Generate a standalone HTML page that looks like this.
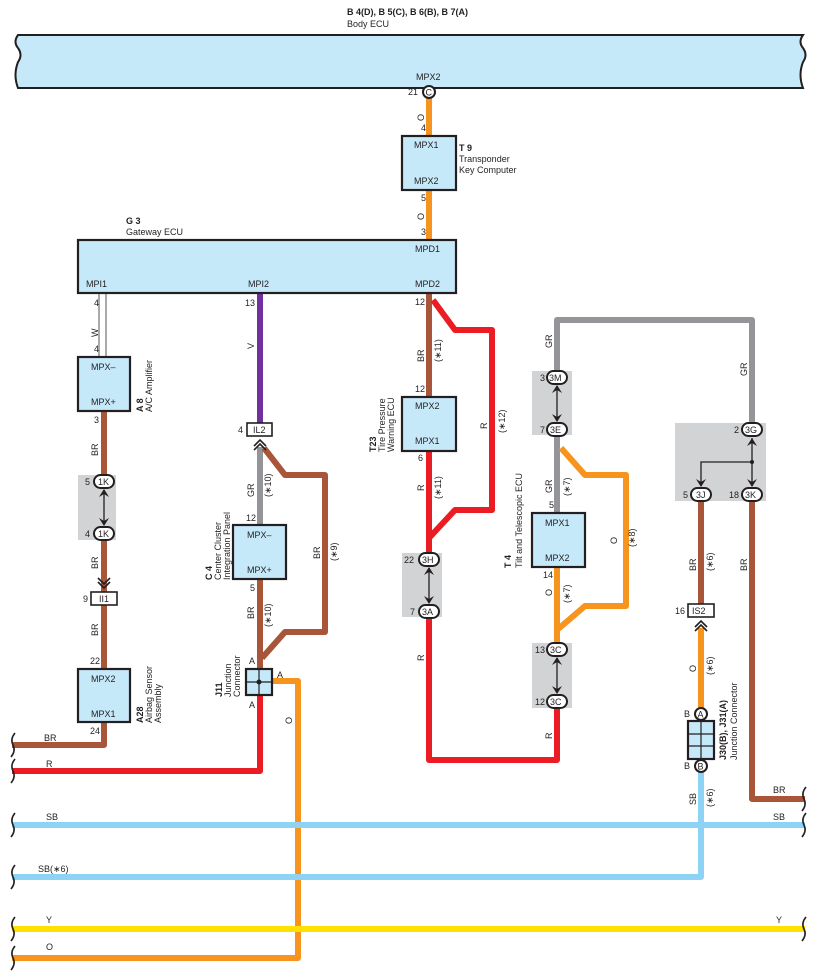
<!DOCTYPE html>
<html><head><meta charset="utf-8"><style>
html,body{margin:0;padding:0;background:#fff}
svg{display:block}
text{font-family:"Liberation Sans",sans-serif;font-size:9px;fill:#231f20}
.b{font-weight:bold}
.box{fill:#c6e9fa;stroke:#231f20;stroke-width:2.2}
.w{fill:none;stroke-width:6;stroke-linejoin:round}
.gb{fill:#d1d3d4}
.c{fill:#fff;stroke:#231f20;stroke-width:2}
.ar{stroke:#231f20;stroke-width:1.3;fill:none}
</style></head><body>
<svg width="818" height="977" viewBox="0 0 818 977" xmlns="http://www.w3.org/2000/svg">
<!-- Body ECU band -->
<path d="M18 35 L803 35 Q798 42 803 48 Q808 55 803 62 Q798 75 803 88 L18 88 Q13 75 18 62 Q23 55 18 48 Q13 42 18 35 Z" fill="#c6e9fa" stroke="#231f20" stroke-width="2"/>
<text x="347" y="15" class="b">B 4(D), B 5(C), B 6(B), B 7(A)</text>
<text x="347" y="27">Body ECU</text>
<text x="416" y="80">MPX2</text>

<!-- Wires -->
<g class="w">
<path d="M429 98 V136 M429 190 V240" stroke="#f7941d"/>
<path d="M104 411 V745 H12" stroke="#a8553a"/>
<path d="M260 293 V423" stroke="#7030a0"/>
<path d="M260 447 V525" stroke="#939598"/>
<path d="M260 579 V668" stroke="#a8553a"/>
<path d="M264 448 L285 475 H325 V632 H285 L262 658" stroke="#a8553a"/>
<path d="M272 681 H298 V958 H12" stroke="#f7941d"/>
<path d="M260 695 V771 H12" stroke="#ec1c24"/>
<path d="M429 293 V397" stroke="#a8553a"/>
<path d="M433 300 L455 330 H492 V510 H455 L429 538" stroke="#ec1c24"/>
<path d="M429 451 V553 M429 617 V760 H557 V708" stroke="#ec1c24"/>
<path d="M557 371 V320 H752 V423" stroke="#939598"/>
<path d="M557 435 V513" stroke="#939598"/>
<path d="M561 448 L585 475 H626 V606 H585 L557 630" stroke="#f7941d"/>
<path d="M557 567 V643" stroke="#f7941d"/>
<path d="M701 500 V604" stroke="#a8553a"/>
<path d="M701 628 V708" stroke="#f7941d"/>
<path d="M752 500 V799 H805" stroke="#a8553a"/>
<path d="M701 772 V877 H12" stroke="#8dd3f5"/>
<path d="M12 825 H805" stroke="#8dd3f5"/>
<path d="M12 929 H805" stroke="#ffe000"/>
</g>
<!-- W double line -->
<path d="M99 293 V357 M106 293 V357" stroke="#555" stroke-width="1"/>

<!-- brace ends -->
<g stroke="#231f20" stroke-width="1.6" fill="none">
<path d="M15 733 Q10 739 13 745 Q16 751 11 757"/>
<path d="M15 759 Q10 765 13 771 Q16 777 11 783"/>
<path d="M15 813 Q10 819 13 825 Q16 831 11 837"/>
<path d="M15 865 Q10 871 13 877 Q16 883 11 889"/>
<path d="M15 917 Q10 923 13 929 Q16 935 11 941"/>
<path d="M15 946 Q10 952 13 958 Q16 964 11 970"/>
<path d="M806 787 Q801 793 804 799 Q807 805 802 811"/>
<path d="M806 813 Q801 819 804 825 Q807 831 802 837"/>
<path d="M806 917 Q801 923 804 929 Q807 935 802 941"/>
</g>

<!-- top connector -->
<circle cx="429" cy="92" r="6" class="c"/><text x="425.5" y="95.5">C</text>
<text x="408" y="95">21</text>
<text x="421" y="131">4</text>
<text transform="translate(424,121) rotate(-90)">O</text>

<!-- T9 -->
<rect x="402" y="136" width="54" height="54" class="box"/>
<text x="414" y="148">MPX1</text><text x="414" y="184">MPX2</text>
<text x="459" y="151" class="b">T 9</text>
<text x="459" y="162">Transponder</text><text x="459" y="173">Key Computer</text>
<text x="421" y="201">5</text>
<text transform="translate(424,220) rotate(-90)">O</text>
<text x="421" y="235">3</text>

<!-- Gateway -->
<rect x="78" y="240" width="378" height="53" class="box"/>
<text x="126" y="224" class="b">G 3</text>
<text x="126" y="235">Gateway ECU</text>
<text x="415" y="252">MPD1</text>
<text x="415" y="287">MPD2</text>
<text x="86" y="287">MPI1</text>
<text x="248" y="287">MPI2</text>

<!-- A8 -->
<text x="94" y="306">4</text>
<text transform="translate(98,337) rotate(-90)">W</text>
<text x="94" y="352">4</text>
<rect x="78" y="357" width="52" height="54" class="box"/>
<text x="91" y="370">MPX–</text><text x="91" y="405">MPX+</text>
<text transform="translate(143,412) rotate(-90)" class="b">A 8</text>
<text transform="translate(152,412) rotate(-90)">A/C Amplifier</text>
<text x="94" y="423">3</text>
<text transform="translate(98,456) rotate(-90)">BR</text>
<rect x="78" y="475" width="38" height="65" class="gb"/>
<rect x="94" y="475" width="20" height="13" rx="6.5" class="c"/><text x="98" y="485">1K</text>
<rect x="94" y="527" width="20" height="13" rx="6.5" class="c"/><text x="98" y="537">1K</text>
<text x="85" y="485">5</text><text x="85" y="537">4</text>
<path d="M104 490 V525" class="ar"/>
<path d="M99 497 L104 489 L109 497 L104 494Z M99 518 L104 526 L109 518 L104 521Z" fill="#231f20"/>
<text transform="translate(98,569) rotate(-90)">BR</text>
<path d="M98 578 L104 584 L110 578 M98 582 L104 588 L110 582" stroke="#231f20" stroke-width="1.6" fill="none"/>
<rect x="91" y="592" width="26" height="13" fill="#fff" stroke="#231f20" stroke-width="1.6"/>
<text x="99" y="602">II1</text><text x="83" y="602">9</text>
<text transform="translate(98,636) rotate(-90)">BR</text>
<text x="90" y="664">22</text>
<rect x="78" y="669" width="52" height="53" class="box"/>
<text x="91" y="682">MPX2</text><text x="91" y="717">MPX1</text>
<text transform="translate(143,723) rotate(-90)" class="b">A28</text>
<text transform="translate(152,723) rotate(-90)">Airbag Sensor</text>
<text transform="translate(161,723) rotate(-90)">Assembly</text>
<text x="90" y="734">24</text>
<text x="44" y="741">BR</text>
<text x="46" y="767">R</text>

<!-- MPI2 / C4 -->
<text x="245" y="306">13</text>
<text transform="translate(254,349) rotate(-90)">V</text>
<rect x="247" y="423" width="25" height="13" fill="#fff" stroke="#231f20" stroke-width="1.6"/>
<text x="253" y="433">IL2</text><text x="238" y="433">4</text>
<path d="M254 446 L260 440 L266 446 M254 450 L260 444 L266 450" stroke="#231f20" stroke-width="1.6" fill="none"/>
<text transform="translate(254,497) rotate(-90)">GR</text>
<text transform="translate(271,497) rotate(-90)">(∗10)</text>
<text x="246" y="521">12</text>
<rect x="233" y="525" width="53" height="54" class="box"/>
<text x="247" y="538">MPX–</text><text x="247" y="573">MPX+</text>
<text transform="translate(212,580) rotate(-90)" class="b">C 4</text>
<text transform="translate(221,580) rotate(-90)">Center Cluster</text>
<text transform="translate(230,580) rotate(-90)">Integration Panel</text>
<text x="250" y="591">5</text>
<text transform="translate(254,619) rotate(-90)">BR</text>
<text transform="translate(271,627) rotate(-90)">(∗10)</text>
<text transform="translate(320,559) rotate(-90)">BR</text>
<text transform="translate(337,561) rotate(-90)">(∗9)</text>
<text x="249" y="664">A</text>
<rect x="246" y="669" width="26" height="26" class="box"/>
<path d="M259 669 V695 M246 682 H272" stroke="#231f20" stroke-width="1.2"/>
<circle cx="259" cy="682" r="2.5" fill="#231f20"/>
<text x="277" y="678">A</text>
<text x="249" y="708">A</text>
<text transform="translate(222,697) rotate(-90)" class="b">J11</text>
<text transform="translate(231,697) rotate(-90)">Junction</text>
<text transform="translate(240,697) rotate(-90)">Connector</text>
<text transform="translate(292,724) rotate(-90)">O</text>

<!-- T23 -->
<text x="415" y="305">12</text>
<text transform="translate(424,362) rotate(-90)">BR</text>
<text transform="translate(441,362) rotate(-90)">(∗11)</text>
<text x="415" y="392">12</text>
<rect x="402" y="397" width="54" height="54" class="box"/>
<text x="415" y="409">MPX2</text><text x="415" y="444">MPX1</text>
<text transform="translate(376,452) rotate(-90)" class="b">T23</text>
<text transform="translate(385,452) rotate(-90)">Tire Pressure</text>
<text transform="translate(394,452) rotate(-90)">Warning ECU</text>
<text x="418" y="461">6</text>
<text transform="translate(424,491) rotate(-90)">R</text>
<text transform="translate(441,499) rotate(-90)">(∗11)</text>
<text transform="translate(487,429) rotate(-90)">R</text>
<text transform="translate(505,433) rotate(-90)">(∗12)</text>
<rect x="402" y="553" width="40" height="64" class="gb"/>
<rect x="419" y="553" width="20" height="13" rx="6.5" class="c"/><text x="422" y="563">3H</text>
<rect x="419" y="605" width="20" height="13" rx="6.5" class="c"/><text x="422" y="615">3A</text>
<text x="404" y="563">22</text><text x="410" y="615">7</text>
<path d="M429 568 V603" class="ar"/>
<path d="M424 575 L429 567 L434 575 L429 572Z M424 596 L429 604 L434 596 L429 599Z" fill="#231f20"/>
<text transform="translate(424,661) rotate(-90)">R</text>
<text transform="translate(552,739) rotate(-90)">R</text>

<!-- T4 -->
<text transform="translate(552,348) rotate(-90)">GR</text>
<text transform="translate(747,376) rotate(-90)">GR</text>
<rect x="532" y="371" width="40" height="64" class="gb"/>
<rect x="547" y="371" width="20" height="13" rx="6.5" class="c"/><text x="549" y="381">3M</text>
<rect x="547" y="423" width="20" height="13" rx="6.5" class="c"/><text x="550" y="433">3E</text>
<text x="540" y="381">3</text><text x="540" y="433">7</text>
<path d="M557 386 V421" class="ar"/>
<path d="M552 393 L557 385 L562 393 L557 390Z M552 414 L557 422 L562 414 L557 417Z" fill="#231f20"/>
<text transform="translate(552,493) rotate(-90)">GR</text>
<text transform="translate(570,496) rotate(-90)">(∗7)</text>
<text x="549" y="508">5</text>
<rect x="532" y="513" width="53" height="54" class="box"/>
<text x="545" y="526">MPX1</text><text x="545" y="561">MPX2</text>
<text transform="translate(511,568) rotate(-90)" class="b">T 4</text>
<text transform="translate(522,568) rotate(-90)">Tilt and Telescopic ECU</text>
<text x="543" y="578">14</text>
<text transform="translate(552,596) rotate(-90)">O</text>
<text transform="translate(570,603) rotate(-90)">(∗7)</text>
<text transform="translate(617,544) rotate(-90)">O</text>
<text transform="translate(635,547) rotate(-90)">(∗8)</text>
<rect x="532" y="643" width="40" height="65" class="gb"/>
<rect x="547" y="643" width="20" height="13" rx="6.5" class="c"/><text x="550" y="653">3C</text>
<rect x="547" y="695" width="20" height="13" rx="6.5" class="c"/><text x="550" y="705">3C</text>
<text x="535" y="653">13</text><text x="535" y="705">12</text>
<path d="M557 658 V693" class="ar"/>
<path d="M552 665 L557 657 L562 665 L557 662Z M552 686 L557 694 L562 686 L557 689Z" fill="#231f20"/>

<!-- right junction -->
<rect x="675" y="423" width="91" height="78" class="gb"/>
<rect x="742" y="423" width="20" height="13" rx="6.5" class="c"/><text x="745" y="433">3G</text>
<rect x="691" y="488" width="20" height="13" rx="6.5" class="c"/><text x="696" y="498">3J</text>
<rect x="742" y="488" width="20" height="13" rx="6.5" class="c"/><text x="745" y="498">3K</text>
<text x="734" y="433">2</text><text x="683" y="498">5</text><text x="729" y="498">18</text>
<path d="M752 438 V486 M752 462 H701 V486" class="ar"/>
<circle cx="752" cy="462" r="2" fill="#231f20"/>
<path d="M747 446 L752 438 L757 446 L752 443Z M747 479 L752 487 L757 479 L752 482Z M696 479 L701 487 L706 479 L701 482Z" fill="#231f20"/>
<text transform="translate(696,571) rotate(-90)">BR</text>
<text transform="translate(713,571) rotate(-90)">(∗6)</text>
<text transform="translate(747,571) rotate(-90)">BR</text>
<rect x="688" y="604" width="26" height="13" fill="#fff" stroke="#231f20" stroke-width="1.6"/>
<text x="692" y="614">IS2</text><text x="675" y="614">16</text>
<path d="M695 627 L701 621 L707 627 M695 631 L701 625 L707 631" stroke="#231f20" stroke-width="1.6" fill="none"/>
<text transform="translate(696,672) rotate(-90)">O</text>
<text transform="translate(713,675) rotate(-90)">(∗6)</text>
<circle cx="701" cy="714" r="6" class="c"/><text x="697.5" y="717.5">A</text>
<text x="684" y="717">B</text>
<rect x="688" y="721" width="26" height="38" class="box"/>
<path d="M701 721 V759 M688 734 H714 M688 746 H714" stroke="#231f20" stroke-width="1.2"/>
<circle cx="701" cy="766" r="6" class="c"/><text x="697.5" y="769.5">B</text>
<text x="684" y="769">B</text>
<text transform="translate(726,760) rotate(-90)" class="b">J30(B), J31(A)</text>
<text transform="translate(737,760) rotate(-90)">Junction Connector</text>
<text transform="translate(696,805) rotate(-90)">SB</text>
<text transform="translate(713,807) rotate(-90)">(∗6)</text>
<text x="773" y="793">BR</text>
<text x="773" y="820">SB</text>
<text x="46" y="820">SB</text>
<text x="38" y="872">SB(∗6)</text>
<text x="46" y="923">Y</text>
<text x="776" y="923">Y</text>
<text x="46" y="950">O</text>
</svg>
</body></html>
